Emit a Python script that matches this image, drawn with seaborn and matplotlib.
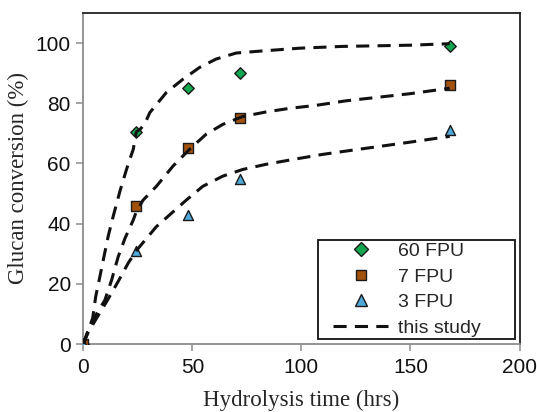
import numpy as np
import pandas as pd
import matplotlib
matplotlib.use("Agg")
import matplotlib.pyplot as plt
import seaborn as sns
from matplotlib.lines import Line2D
from matplotlib.legend_handler import HandlerLine2D

# measured data
time_h = [0, 24, 48, 72, 168]
fpu60 = [0, 70.5, 85, 90, 99]
fpu7 = [0, 46, 65, 75, 86]
fpu3 = [0, 31, 43, 55, 71]

# model curves ("this study")
t60 = [0, 2, 4.3, 5.7, 7.6, 9.5, 11.4, 13.7, 16.8, 19.8, 22.9, 24.3, 26, 28.2, 30.5, 38.1,
       45.7, 53.3, 60.9, 70.1, 82.3, 99.1, 118.9, 150, 168]
c60 = [0, 4, 8.6, 15.8, 22.4, 29.1, 35.8, 42.4, 50.8, 58, 64.7, 70.5, 71.3, 73.2, 76.9, 83.6,
       88, 91.9, 94.7, 96.7, 97.4, 98.3, 98.9, 99.3, 99.8]
t7 = [0, 2, 5.3, 9.9, 13, 16, 19.1, 22.9, 24.3, 27.4, 33.5, 41.1, 48.7, 56.3, 64, 73.1,
      83.7, 94.4, 106.6, 120.3, 150, 168]
c7 = [0, 4, 9.1, 14.6, 21.3, 29, 35.1, 41.2, 44, 47.8, 52.4, 59.1, 64.7, 69.7, 73, 75.6,
      77.1, 78.3, 79.3, 80.8, 83.2, 85]
t3 = [0, 2, 6.1, 10.7, 16, 20.6, 24.3, 25.9, 33.5, 40.5, 47.5, 54.8, 64, 73.1, 83.7,
      95.9, 109.6, 120.3, 150, 168]
c3 = [0, 3.5, 8.6, 14.1, 20.8, 26.9, 31, 32.4, 39, 43.5, 48, 52.4, 55.8, 58, 59.7,
      61.3, 63, 64.1, 67.1, 69]

labels = ["60 FPU", "7 FPU", "3 FPU"]
colors = ["#12a64e", "#a3520e", "#4ea9d9"]
markers = ["D", "s", "^"]
msizes = [34, 44, 52]

sns.set_theme(style="ticks")
plt.rcParams['font.family'] = ['Liberation Sans', 'DejaVu Sans']

W, H = 537, 412
L, R, T, B = 83.3, 519.5, 13, 344
fig = plt.figure(figsize=(W / 100, H / 100), dpi=100)
ax = fig.add_axes([L / W, 1 - B / H, (R - L) / W, (B - T) / H])

LW = 2.2
DASH = [4.3, 2.7]

for y, lab, col, mk, ms in zip([fpu60, fpu7, fpu3], labels, colors, markers, msizes):
    df = pd.DataFrame({"t": time_h, "v": y})
    sns.scatterplot(data=df, x="t", y="v", ax=ax, color=col, marker=mk, s=ms,
                    edgecolor="#1a1a1a", linewidth=1.0, zorder=3)

for t, c in [(t60, c60), (t7, c7), (t3, c3)]:
    sns.lineplot(x=t, y=c, ax=ax, color="#111111", linewidth=LW, zorder=4,
                 estimator=None, sort=False)
    ax.lines[-1].set_dashes(DASH)

ax.set_xlim(0, 200)
ax.set_ylim(0, 110)
ax.set_xticks([0, 50, 100, 150, 200])
ax.set_yticks([0, 20, 40, 60, 80, 100])
ax.tick_params(axis='both', labelsize=15, colors='#8c8c8c', labelcolor='#111111',
               length=5, width=1.1, direction='out')
ax.tick_params(axis='x', pad=5)
ax.tick_params(axis='y', pad=4)
for s in ["left", "bottom"]:
    ax.spines[s].set_color("#8c8c8c")
    ax.spines[s].set_linewidth(1.3)
for s in ["top", "right"]:
    ax.spines[s].set_color("#222222")
    ax.spines[s].set_linewidth(1.3)

ax.set_xlabel("Hydrolysis time (hrs)", family="Liberation Serif", fontsize=16.5, labelpad=9)
ax.set_ylabel("Glucan conversion (%)", family="Liberation Serif", fontsize=16.5, labelpad=5)

handles = [Line2D([], [], linestyle='none', marker=mk, color=col, markeredgecolor="#1a1a1a",
                  markersize=ms, markeredgewidth=1.0)
           for mk, col, ms in zip(markers, colors, [7, 7, 8.5])]
handles.append(Line2D([], [], color="#111111", linewidth=LW, dashes=DASH))
leg = ax.legend(handles, labels + ["this study"], loc="lower left",
                bbox_to_anchor=((318 - L) / (R - L), (B - 339) / (B - T), 197 / (R - L), 0.3),
                mode="expand", fontsize=14, frameon=True,
                fancybox=False, edgecolor="#111111", framealpha=1,
                handlelength=3.5, handletextpad=0.5, borderpad=0.12,
                labelspacing=0.41, borderaxespad=0.0,
                handler_map={Line2D: HandlerLine2D(xpad=0.67)})
leg.get_frame().set_linewidth(1.3)

fig.savefig("out.png", dpi=100)
